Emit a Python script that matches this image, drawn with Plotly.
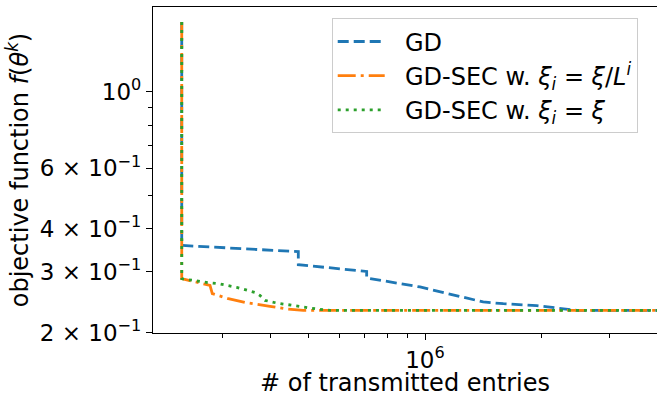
import plotly.graph_objects as go

# Data
gd_x = [2.357e5, 2.357e5, 4.711e5, 4.711e5, 7.071e5, 7.071e5, 9.707e5, 1.320e6,
        1.413e6, 1.592e6, 1.942e6, 2.187e6, 2.463e6, 3.968e6]
gd_y = [1.596, 0.3583, 0.3436, 0.3149, 0.3012, 0.2882, 0.2714, 0.2509,
        0.2455, 0.2427, 0.2395, 0.2359, 0.2321, 0.2321]

sec1_x = [2.357e5, 2.357e5, 2.788e5, 2.826e5, 3.108e5, 3.432e5, 3.982e5, 4.397e5,
          4.853e5, 3.968e6]
sec1_y = [1.596, 0.2869, 0.2744, 0.2596, 0.2509, 0.2448, 0.2384, 0.2343,
          0.2321, 0.2321]

sec2_x = [2.357e5, 2.357e5, 2.679e5, 2.959e5, 3.267e5, 3.641e5, 3.752e5, 3.866e5,
          4.144e5, 4.667e5, 5.256e5, 5.688e5, 3.968e6]
sec2_y = [1.596, 0.2869, 0.2806, 0.2769, 0.2707, 0.2617, 0.2565, 0.2481,
          0.2438, 0.2384, 0.2343, 0.2321, 0.2321]

PAD = "\u00a0\u00a0"
names = [PAD + "GD",
         PAD + "GD-SEC w. <i>ξ<sub>i</sub></i> = <i>ξ</i>/<i>L<sup>i</sup></i>",
         PAD + "GD-SEC w. <i>ξ<sub>i</sub></i> = <i>ξ</i>"]

y_tickvals = [1.0, 0.6, 0.4, 0.3, 0.2]
y_ticktext = ["10<sup>0</sup>", "6 × 10<sup>−1</sup>", "4 × 10<sup>−1</sup>",
              "3 × 10<sup>−1</sup>", "2 × 10<sup>−1</sup>"]
y_minor = [0.5, 0.7, 0.8, 0.9]
x_tickvals = [1e6]
x_ticktext = ["10<sup>6</sup>"]
x_minor = [3e5, 4e5, 5e5, 6e5, 7e5, 8e5, 9e5, 2e6, 3e6]

FONT = "DejaVu Sans"
LW = 2.8

fig = go.Figure()
fig.add_trace(go.Scatter(x=gd_x, y=gd_y, mode="lines", name=names[0],
                         line=dict(color="#1f77b4", width=LW, dash="11px,5px")))
fig.add_trace(go.Scatter(x=sec1_x, y=sec1_y, mode="lines", name=names[1],
                         line=dict(color="#ff7f0e", width=LW, dash="18px,5px,3px,5px")))
fig.add_trace(go.Scatter(x=sec2_x, y=sec2_y, mode="lines", name=names[2],
                         line=dict(color="#2ca02c", width=LW, dash="3px,5px")))

fig.update_layout(
    width=657, height=397,
    margin=dict(l=153, r=0, t=7, b=64),
    paper_bgcolor="white", plot_bgcolor="white",
    font=dict(family=FONT, size=22, color="black"),
    showlegend=True,
    legend=dict(x=0.3546, y=0.965, xanchor="left", yanchor="top",
                bgcolor="rgba(255,255,255,0.8)", bordercolor="#cccccc", borderwidth=1,
                font=dict(family=FONT, size=24, color="black"),
                itemwidth=47, tracegroupgap=6),
    xaxis=dict(type="log", range=[5.2982, 6.5986],
               showgrid=False, zeroline=False,
               showline=True, linecolor="black", linewidth=1.2, mirror=True,
               ticks="outside", ticklen=6, tickwidth=1.2, tickcolor="black",
               tickmode="array", tickvals=x_tickvals, ticktext=x_ticktext,
               tickfont=dict(family=FONT, size=23, color="black"),
               minor=dict(ticks="outside", ticklen=3.5, tickwidth=1, tickcolor="black",
                          tickmode="array", tickvals=x_minor, showgrid=False),
               title=dict(text="# of transmitted entries", standoff=4,
                          font=dict(family=FONT, size=24, color="black"))),
    yaxis=dict(type="log", range=[-0.700, 0.2465],
               showgrid=False, zeroline=False,
               showline=True, linecolor="black", linewidth=1.2, mirror=False,
               ticks="outside", ticklen=6, tickwidth=1.2, tickcolor="black",
               tickmode="array", tickvals=y_tickvals, ticktext=y_ticktext,
               tickfont=dict(family=FONT, size=23, color="black"),
               minor=dict(ticks="outside", ticklen=3.5, tickwidth=1, tickcolor="black",
                          tickmode="array", tickvals=y_minor, showgrid=False),
               title=dict(text="objective function <i>f</i>(<i>θ<sup>k</sup></i>)",
                          standoff=4,
                          font=dict(family=FONT, size=24, color="black"))),
)

fig.write_html("out.html")
